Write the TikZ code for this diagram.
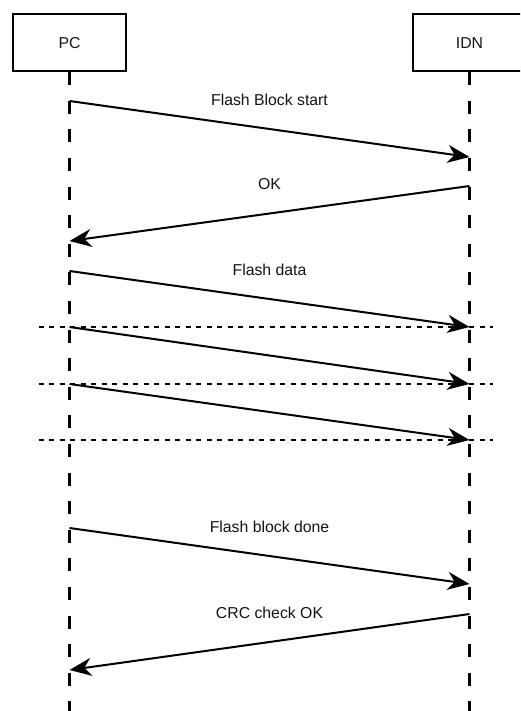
\documentclass[tikz,border=0pt]{standalone}
\usepackage{fontspec}
\setmainfont{Liberation Sans}
\usetikzlibrary{calc}
\usetikzlibrary{arrows.meta}
\usetikzlibrary{positioning}
\definecolor{inkblack}{RGB}{0, 0, 0}
\definecolor{textgray}{RGB}{20, 20, 20}

\tikzset{
    party/.style    = {draw=inkblack, line width=2pt, minimum width=113pt, minimum height=57pt,
                       inner sep=0pt, text=textgray, font=\fontsize{15.8}{18}\selectfont},
    lifeline/.style = {draw=inkblack, line width=2.2pt, dash pattern=on 13pt off 15.6pt},
    msg/.style      = {draw=inkblack, line width=2pt,
                       -{Stealth[length=22pt, width=18pt, inset=7pt]}},
    msgtext/.style  = {midway, yshift=29pt, text=textgray, font=\fontsize{15.8}{18}\selectfont},
    divider/.style  = {draw=inkblack, line width=2pt, dash pattern=on 5pt off 5.5pt},
}

\begin{document}
\begin{tikzpicture}[x=1pt, y=-1pt]
    \useasboundingbox (0,0) rectangle (520,711);
    \clip (0,0) rectangle (520,711);

    % the two parties and their lifelines
    \node[party] (pc)  at ( 69.5, 42.7) {PC};
    \node[party] (idn) at (469.5, 42.7) {IDN};
    \draw[lifeline] (pc.south)  -- (pc.south  |- 0,720);
    \draw[lifeline] (idn.south) -- (idn.south |- 0,720);

    % message end points on the lifelines
    \foreach \name/\ypos in {a/101, b/241, c/271, d/327, e/384, f/440, g/528, h/670}
        \coordinate (pc-\name) at (pc.south |- 0,\ypos);
    \foreach \name/\ypos in {a/157, b/186, c/327, d/384, e/440, g/584, h/614}
        \coordinate (idn-\name) at (idn.south |- 0,\ypos);

    % flash start handshake
    \draw[msg] (pc-a)  -- (idn-a) node[msgtext] {Flash Block start};
    \draw[msg] (idn-b) -- (pc-b)  node[msgtext] {OK};

    % data packets, split by dotted lines
    \draw[msg] (pc-c) -- (idn-c) node[msgtext] {Flash data};
    \draw[msg] (pc-d) -- (idn-d);
    \draw[msg] (pc-e) -- (idn-e);
    \foreach \name in {d, e, f}
        \draw[divider] ([xshift=-31pt]pc-\name) -- ([xshift=492pt-38pt-31pt]pc-\name);

    % block end and check
    \draw[msg] (pc-g)  -- (idn-g) node[msgtext] {Flash block done};
    \draw[msg] (idn-h) -- (pc-h)  node[msgtext] {CRC check OK};
\end{tikzpicture}
\end{document}
